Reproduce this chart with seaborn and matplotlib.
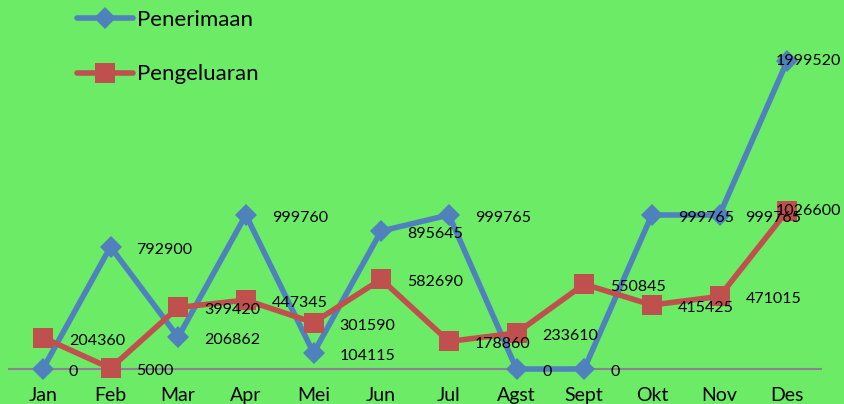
# Penerimaan vs Pengeluaran per bulan

import matplotlib
matplotlib.use("Agg")
import matplotlib.pyplot as plt
import seaborn as sns

bulan = ["Jan", "Feb", "Mar", "Apr", "Mei", "Jun", "Jul", "Agst", "Sept", "Okt", "Nov", "Des"]
penerimaan = [0, 792900, 206862, 999760, 104115, 895645, 999765, 0, 0, 999765, 999765, 1999520]
pengeluaran = [204360, 5000, 399420, 447345, 301590, 582690, 178860, 233610, 550845, 415425, 471015, 1026600]

bg = "#6BEB66"
biru = "#4F81BD"
merah = "#C0504D"

sns.set_style("white")
plt.rcParams["font.family"] = ["Lato", "DejaVu Sans"]

fig = plt.figure(figsize=(8.44, 4.04), dpi=100, facecolor=bg)
ax = fig.add_axes([9 / 844, 35 / 404, 812 / 844, 369 / 404])
ax.set_facecolor(bg)

x = list(range(len(bulan)))

sns.lineplot(x=x, y=penerimaan, ax=ax, color=biru, lw=4, marker="D",
             markersize=11, markeredgewidth=0, clip_on=False, label="Penerimaan", zorder=3)
sns.lineplot(x=x, y=pengeluaran, ax=ax, color=merah, lw=4, marker="s",
             markersize=14, markeredgewidth=0, clip_on=False, label="Pengeluaran", zorder=4)

ax.set_xlim(-0.5, 11.5)
ax.set_ylim(0, 2395500)

# label angka di kanan tiap titik
for seri in [penerimaan, pengeluaran]:
    for i, v in enumerate(seri):
        if i == len(seri) - 1:
            ax.annotate(str(v), xy=(i, v), xytext=(841 / 844, v),
                        textcoords=("figure fraction", "data"),
                        ha="right", va="center", fontsize=11.5, color="black", zorder=6)
        else:
            ax.annotate(str(v), xy=(i, v), xytext=(26, -3), textcoords="offset pixels",
                        ha="left", va="center", fontsize=11.5, color="black", zorder=6)

ax.set_xticks(x)
ax.set_xticklabels(bulan, fontsize=14, color="black")
ax.set_yticks([])
ax.tick_params(axis="x", length=0, pad=13)
for s in ["top", "left", "right"]:
    ax.spines[s].set_visible(False)
ax.spines["bottom"].set_color("#8F7F99")
ax.spines["bottom"].set_linewidth(1.5)
ax.spines["bottom"].set_zorder(1)
ax.set_xlabel("")
ax.set_ylabel("")

leg = ax.legend(loc="upper left", bbox_to_anchor=(77 / 844, 1 - 10 / 404),
                bbox_transform=fig.transFigure, frameon=False, fontsize=16,
                handlelength=2.5, handletextpad=0.2, labelspacing=1.55, borderpad=0,
                borderaxespad=0)
for t in leg.get_texts():
    t.set_color("black")

fig.savefig("out.png", dpi=100, facecolor=bg)
